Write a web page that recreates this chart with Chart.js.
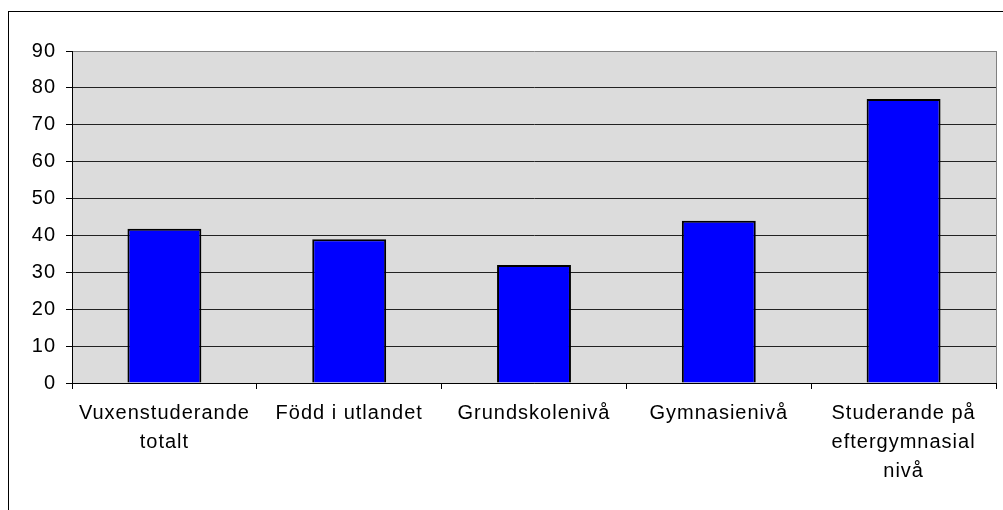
<!DOCTYPE html>
<html>
<head>
<meta charset="utf-8">
<script src="https://cdn.jsdelivr.net/npm/chart.js@4"></script>
<style>
  body { margin: 0; background: #fff; }
  canvas { display: block; }
</style>
</head>
<body>
<canvas id="myChart" width="1003" height="510"></canvas>
<script>
// kategorier (x-axeln) och värden
var categories = [
    ["Vuxenstuderande", "totalt"],
    "Född i utlandet",
    "Grundskolenivå",
    "Gymnasienivå",
    ["Studerande på", "eftergymnasial", "nivå"]
];
var values = [41.8, 39, 32, 44, 77];
var yTicks = [0, 10, 20, 30, 40, 50, 60, 70, 80, 90];

var font = { family: "'Liberation Sans', Arial, sans-serif", size: 20 };

// grå bakgrund i diagramytan, ram runt diagrammet
var plotArea = {
    id: "plotArea",
    beforeDraw: function (chart) {
        var ctx = chart.ctx, a = chart.chartArea;
        ctx.letterSpacing = "1px";
        ctx.save();
        ctx.fillStyle = "#dcdcdc";
        ctx.fillRect(a.left, a.top, a.right - a.left, a.bottom - a.top);
        ctx.strokeStyle = "#000";
        ctx.lineWidth = 1;
        ctx.strokeRect(8.5, 11.5, 2000, 2000);
        ctx.restore();
    },
    afterDraw: function (chart) {
        var ctx = chart.ctx, a = chart.chartArea;
        ctx.save();
        ctx.strokeStyle = "#808080";
        ctx.lineWidth = 1;
        ctx.beginPath();
        ctx.moveTo(Math.round(a.right) + 0.5, a.top);
        ctx.lineTo(Math.round(a.right) + 0.5, a.bottom);
        ctx.stroke();
        ctx.restore();
    }
};

new Chart("myChart", {
    type: "bar",
    data: {
        labels: categories,
        datasets: [{
            data: values,
            backgroundColor: "#0000ff",
            borderColor: "#000",
            borderWidth: 2,
            barPercentage: 0.4,
            categoryPercentage: 1
        }]
    },
    options: {
        responsive: false,
        animation: false,
        layout: { padding: { left: 0, top: 51, right: 7, bottom: 0 } },
        plugins: {
            legend: { display: false },
            tooltip: { enabled: false }
        },
        scales: {
            x: {
                offset: true,
                grid: {
                    offset: true,
                    drawOnChartArea: false,
                    color: "#000",
                    tickLength: 6
                },
                border: { color: "#000", width: 1 },
                ticks: {
                    color: "#000",
                    font: Object.assign({ lineHeight: 1.45 }, font),
                    padding: 10,
                    maxRotation: 0,
                    autoSkip: false
                },
                afterFit: function (scale) { scale.height = 127; }
            },
            y: {
                min: 0,
                max: 90,
                afterBuildTicks: function (scale) {
                    scale.ticks = yTicks.map(function (v) { return { value: v }; });
                },
                grid: {
                    color: function (c) { return c.tick && c.tick.value === 90 ? "#808080" : "#222"; },
                    tickColor: "#000",
                    tickLength: 6
                },
                border: { color: "#000", width: 1 },
                ticks: {
                    color: "#000",
                    font: font,
                    padding: 10
                },
                afterFit: function (scale) { scale.width = 72; }
            }
        }
    },
    plugins: [plotArea]
});
</script>
</body>
</html>
